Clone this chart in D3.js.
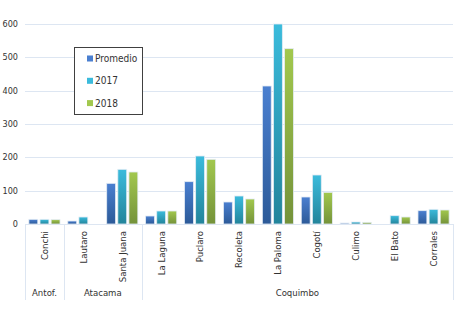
<!DOCTYPE html>
<html lang="es">
<head>
<meta charset="UTF-8">
<title>Chart</title>
<script src="https://cdn.jsdelivr.net/npm/d3@7/dist/d3.min.js"></script>
<style>
  body { margin: 0; background: #fff; }
  text { font-family: "Liberation Sans Narrow", "Arial Narrow", "DejaVu Sans Condensed", sans-serif; fill: #333; }
</style>
</head>
<body>
<script>

    // data
    var categories = ["Conchi", "Lautaro", "Santa Juana", "La Laguna", "Puclaro", "Recoleta",
                      "La Paloma", "Cogotí", "Culimo", "El Bato", "Corrales"];
    var regions = [ ["Antof.", 1], ["Atacama", 2], ["Coquimbo", 8] ];
    var series = ["Promedio", "2017", "2018"];
    var promedio = [14, 9, 122, 24, 127, 66, 414, 81, 3, 0, 40];
    var y2017    = [14, 21, 164, 39, 204, 84, 600, 147, 6, 25, 44];
    var y2018    = [13, 0, 156, 39, 194, 75, 526, 95, 5, 21, 42];
    var yTicks = [0, 100, 200, 300, 400, 500, 600];

    var values = [promedio, y2017, y2018];
    var colors = [ ["#4a7fd0", "#2c5a98"], ["#3bbbdc", "#23849b"], ["#a2c84e", "#74923a"] ];

    var width = 462, height = 324;
    var plotL = 25, plotR = 453, plotT = 24, plotB = 224;

    var svg = d3.select("body").append("svg")
        .attr("width", width)
        .attr("height", height);

    var defs = svg.append("defs");
    colors.forEach(function(c, i){
        var g = defs.append("linearGradient")
            .attr("id", "grad" + i)
            .attr("x1", 0).attr("y1", 0).attr("x2", 0).attr("y2", 1);
        g.append("stop").attr("offset", "0%").attr("stop-color", c[0]);
        g.append("stop").attr("offset", "100%").attr("stop-color", c[1]);
    });

    var y = d3.scaleLinear().domain([0, 600]).range([plotB, plotT]);
    var x0 = d3.scaleBand().domain(categories).range([plotL, plotR]);
    var bw = x0.bandwidth();
    var x1 = d3.scaleBand().domain(series).range([bw * 0.1, bw * 0.9]).paddingInner(0.2);

    // grid
    svg.append("g").selectAll("line")
        .data(yTicks.slice(1))
        .enter().append("line")
        .attr("x1", plotL).attr("x2", plotR)
        .attr("y1", function(d){ return Math.round(y(d)) + 0.5; })
        .attr("y2", function(d){ return Math.round(y(d)) + 0.5; })
        .attr("stroke", "#dde6f2")
        .attr("stroke-width", 1);

    // y axis labels
    svg.append("g").selectAll("text")
        .data(yTicks)
        .enter().append("text")
        .attr("x", 18)
        .attr("y", function(d){ return y(d); })
        .attr("dy", "0.35em")
        .attr("text-anchor", "end")
        .style("font-size", "9px")
        .text(function(d){ return d; });

    // bars
    var gBars = svg.append("g");
    series.forEach(function(s, i){
        gBars.selectAll(".bar" + i)
            .data(values[i].map(function(v, k){ return { cat: categories[k], v: v }; })
                           .filter(function(d){ return d.v > 0; }))
            .enter().append("rect")
            .attr("class", "bar" + i)
            .attr("x", function(d){ return x0(d.cat) + x1(s); })
            .attr("y", function(d){ return y(d.v); })
            .attr("width", x1.bandwidth())
            .attr("height", function(d){ return plotB - y(d.v); })
            .attr("fill", "url(#grad" + i + ")")
            .attr("stroke", "#e4ecf4")
            .attr("stroke-width", 0.8);
    });

    // x axis line
    svg.append("line")
        .attr("x1", plotL).attr("x2", plotR)
        .attr("y1", plotB + 0.5).attr("y2", plotB + 0.5)
        .attr("stroke", "#dde6f2");

    // category labels
    svg.append("g").selectAll("text")
        .data(categories)
        .enter().append("text")
        .attr("transform", function(d){
            return "translate(" + (x0(d) + bw / 2) + "," + (plotB + 7) + ") rotate(-90)";
        })
        .attr("dy", "0.35em")
        .attr("text-anchor", "end")
        .style("font-size", "9.5px")
        .text(function(d){ return d; });

    // region separators and labels
    var gReg = svg.append("g");
    var idx = 0;
    var seps = [plotL];
    regions.forEach(function(r){
        var start = x0(categories[idx]);
        idx += r[1];
        var end = idx < categories.length ? x0(categories[idx]) : plotR;
        seps.push(end);
        gReg.append("text")
            .attr("x", (start + end) / 2)
            .attr("y", 293)
            .attr("dy", "0.35em")
            .attr("text-anchor", "middle")
            .style("font-size", "9.5px")
            .text(r[0]);
    });
    gReg.selectAll("line")
        .data(seps)
        .enter().append("line")
        .attr("x1", function(d){ return Math.round(d) + 0.5; })
        .attr("x2", function(d){ return Math.round(d) + 0.5; })
        .attr("y1", plotB).attr("y2", 300)
        .attr("stroke", "#dde6f2");

    // legend
    var gLeg = svg.append("g");
    gLeg.append("rect")
        .attr("x", 74.5).attr("y", 47.5)
        .attr("width", 68).attr("height", 67)
        .attr("fill", "#fff")
        .attr("stroke", "#404040")
        .attr("stroke-width", 1);
    series.forEach(function(s, i){
        var ly = 58.5 + i * 22.3;
        gLeg.append("rect")
            .attr("x", 87).attr("y", ly - 3)
            .attr("width", 6).attr("height", 6)
            .attr("fill", colors[i][0]);
        gLeg.append("text")
            .attr("x", 95).attr("y", ly)
            .attr("dy", "0.35em")
            .style("font-size", "10px")
            .text(s);
    });

</script>
</body>
</html>
